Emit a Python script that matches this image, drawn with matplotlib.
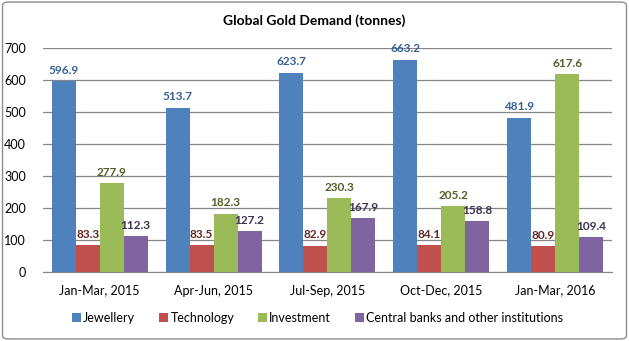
import numpy as np
import matplotlib
matplotlib.use("Agg")
from matplotlib import pyplot as plt
from matplotlib.patches import FancyBboxPatch

# Data
quarters = ['Jan-Mar, 2015', 'Apr-Jun, 2015', 'Jul-Sep, 2015', 'Oct-Dec, 2015', 'Jan-Mar, 2016']
series_names = ['Jewellery', 'Technology', 'Investment', 'Central banks and other institutions']
jewellery = [596.9, 513.7, 623.7, 663.2, 481.9]
technology = [83.3, 83.5, 82.9, 84.1, 80.9]
investment = [277.9, 182.3, 230.3, 205.2, 617.6]
central_banks = [112.3, 127.2, 167.9, 158.8, 109.4]

bar_colors = ['#4F81BD', '#C0504D', '#9BBB59', '#8064A2']
label_colors = ['#376092', '#632523', '#4F6228', '#3F3151']

plt.rcParams['font.family'] = ['Lato', 'DejaVu Sans']

fig = plt.figure(figsize=(6.29, 3.41), dpi=100)
ax = fig.add_axes([0.068, 0.202, 0.905, 0.657])

# Rounded gray border around the whole chart
border = FancyBboxPatch((0.004, 0.006), 0.992, 0.988, boxstyle='round,pad=0,rounding_size=0.01',
                        transform=fig.transFigure, facecolor='none', edgecolor='#8C8C8C', linewidth=1.0)
fig.patches.append(border)

x = np.arange(len(quarters))
width = 0.211
all_series = [jewellery, technology, investment, central_banks]
for i, values in enumerate(all_series):
    offset = (i - 1.5) * width
    ax.bar(x + offset, values, width, color=bar_colors[i], label=series_names[i], zorder=3)
    for xi, v in zip(x + offset, values):
        ax.annotate(f'{v:.1f}', (xi, v), xytext=(0, 4), textcoords='offset points',
                    ha='center', va='bottom', fontsize=8.5, color=label_colors[i],
                    fontweight='bold', zorder=4)

ax.set_xlim(-0.5, len(quarters) - 0.5)
ax.set_ylim(0, 700)
ax.set_yticks(range(0, 701, 100))
ax.set_xticks(x)
ax.set_xticklabels(quarters, fontsize=9)
ax.tick_params(axis='both', length=0, labelsize=9, colors='black')
ax.tick_params(axis='x', pad=9)
ax.tick_params(axis='y', pad=12)
ax.grid(axis='y', color='#868686', linewidth=0.9, zorder=0)
for side in ['top', 'right', 'left']:
    ax.spines[side].set_visible(False)
ax.spines['bottom'].set_color('#868686')

fig.text(0.5, 0.94, 'Global Gold Demand (tonnes)', ha='center', va='center',
         fontsize=10, fontweight='bold')

fig.legend(loc='center', bbox_to_anchor=(0.505, 0.067), ncol=4, frameon=False,
           fontsize=9, handlelength=0.7, handleheight=0.7, handletextpad=0.2,
           columnspacing=1.9)

fig.savefig('out.png', dpi=100)
